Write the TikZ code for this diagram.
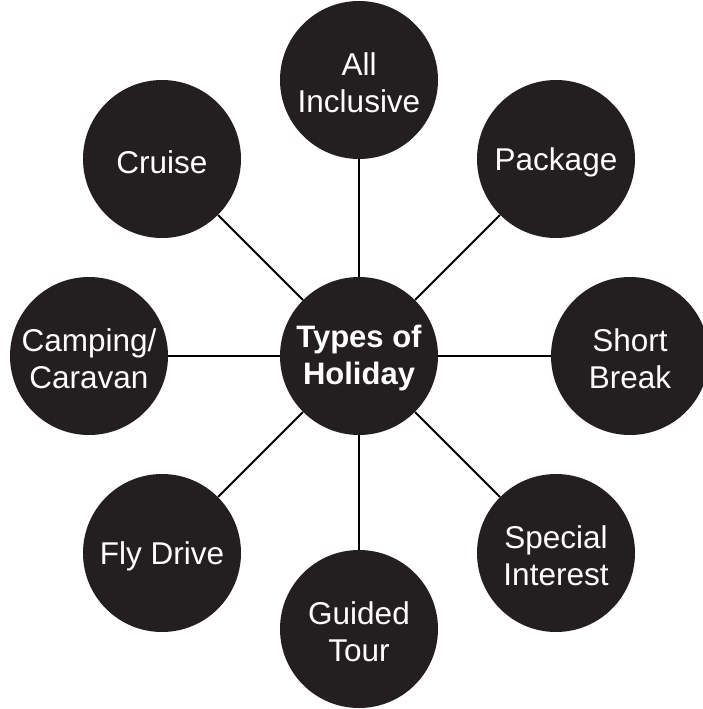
\documentclass[tikz,border=0pt]{standalone}
\usepackage{fontspec}
\setmainfont{Liberation Sans}
\definecolor{disc}{HTML}{231F20}
\tikzset{
  ball/.style={circle, fill=disc, draw=none, minimum size=158pt, inner sep=0pt,
    label={[text=white, align=center, font=\fontsize{31.5}{37}\selectfont, yshift=-3pt]center:#1}},
  hub/.style={circle, fill=disc, draw=none, minimum size=158pt, inner sep=0pt,
    label={[text=white, align=center, font=\fontsize{31}{37}\selectfont\bfseries, yshift=-2pt]center:#1}},
  spoke/.style={draw=black, line width=1.8pt}
}
\begin{document}
\begin{tikzpicture}[x=1pt, y=-1pt]
\useasboundingbox (0,0) rectangle (702,709);
\node[hub={Types of\\Holiday}]  (c)  at (359,356) {};
\node[ball={All\\Inclusive}] (n)  at (359,80)  {};
\node[ball={Package}] (ne) at (556,159) {};
\node[ball={Short\\Break}] (e)  at (630,356) {};
\node[ball={Special\\Interest}] (se) at (556,553) {};
\node[ball={Guided\\Tour}] (s)  at (359,629) {};
\node[ball={Fly Drive}] (sw) at (162,553) {};
\node[ball={Camping/\\Caravan}] (w)  at (89,356)  {};
\node[ball={Cruise}] (nw) at (162,159) {};
\foreach \t in {n,ne,e,se,s,sw,w,nw}{
  \draw[spoke] (c) -- (\t);
}
\end{tikzpicture}
\end{document}
